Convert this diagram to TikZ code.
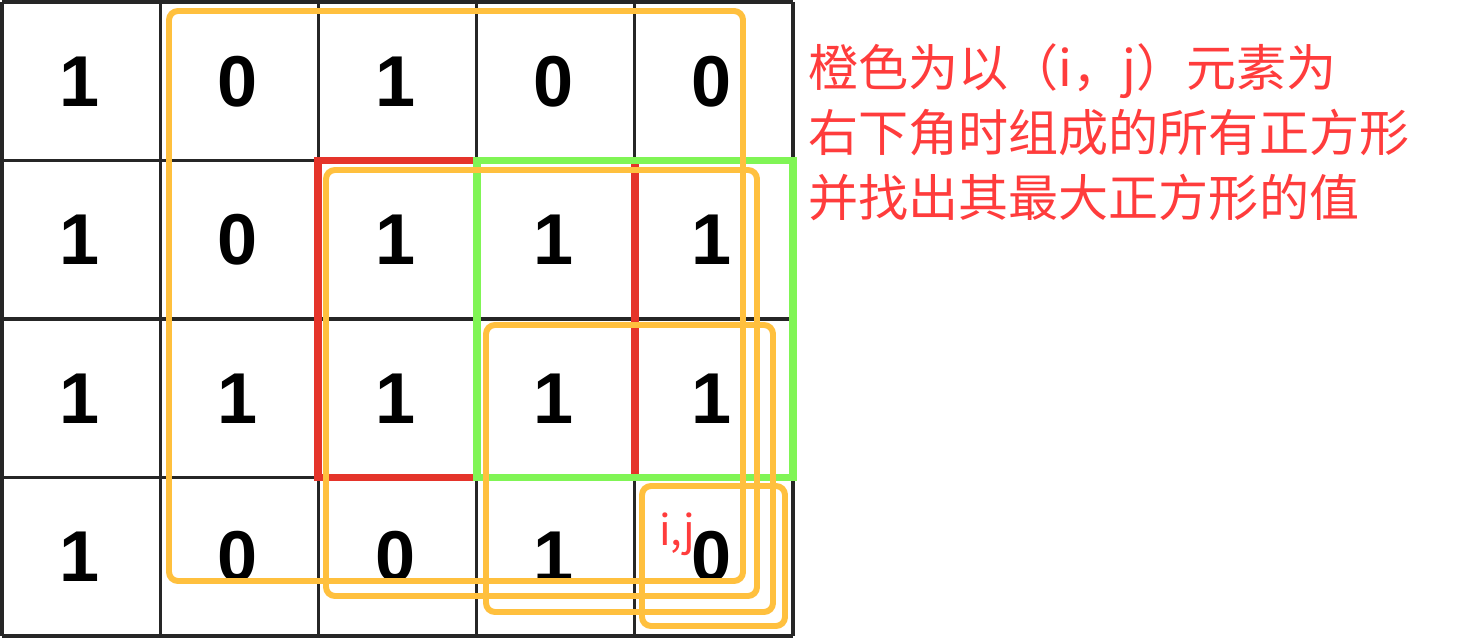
\documentclass[tikz,border=0pt]{standalone}
\usepackage{fontspec}
\setmainfont{Liberation Sans}
\newfontfamily\cjkfont{Noto Sans CJK SC}
\definecolor{boxorange}{HTML}{FFC03E}
\definecolor{boxred}{HTML}{E5342A}
\definecolor{boxgreen}{HTML}{80F555}
\definecolor{notered}{HTML}{FF3C3C}
\tikzset{
  gridline/.style={line width=1.8pt,black!85},
  digit/.style={font=\fontsize{41}{41}\selectfont\bfseries,inner sep=0pt},
  redsq/.style={line width=4.2pt,boxred},
  greensq/.style={line width=4.2pt,boxgreen},
  orangesq/.style={line width=3.4pt,boxorange,rounded corners=0.18cm},
  note/.style={font=\cjkfont\fontsize{28.5}{37}\selectfont,text=notered,align=left,inner sep=0pt}
}
\begin{document}
\begin{tikzpicture}[x=0.02cm,y=-0.02cm]
  \fill[white] (0,0) rectangle (1482,638);
  \useasboundingbox (0,0) rectangle (1482,638);
  % grid
  \foreach \i in {0,...,5}
    \draw[gridline] ({2+158.2*\i},2) -- ({2+158.2*\i},636);
  \foreach \j in {0,...,4}
    \draw[gridline] (2,{2+158.5*\j}) -- (793,{2+158.5*\j});
  % cell values
  \foreach \vals [count=\row from 0] in {{1,0,1,0,0},{1,0,1,1,1},{1,1,1,1,1},{1,0,0,1,0}}
    \foreach \v [count=\col from 0] in \vals
      \node[digit] (c-\row-\col) at ({158.2*(\col+0.5)},{2+158.5*(\row+0.5)}) {\v};
  % red and green squares
  \draw[redsq] (318,160.5) rectangle (635,477.5);
  \draw[greensq] (477,160.5) rectangle (793,477.5);
  % orange squares, bottom right at (i,j)
  \draw[orangesq] (169,11) rectangle (743,581);
  \draw[orangesq] (326,170) rectangle (757,596);
  \draw[orangesq] (486,325) rectangle (773,612);
  \draw[orangesq] (642,486) rectangle (785,626);
  \node[font=\cjkfont\fontsize{24}{24}\selectfont,text=notered,inner sep=0pt,anchor=base west] (ij) at (659,546) {i,j};
  % explanation
  \node[note,anchor=north west] (txt) at (808,43) {橙色为以（i，j）元素为\\右下角时组成的所有正方形\\并找出其最大正方形的值};
\end{tikzpicture}
\end{document}
